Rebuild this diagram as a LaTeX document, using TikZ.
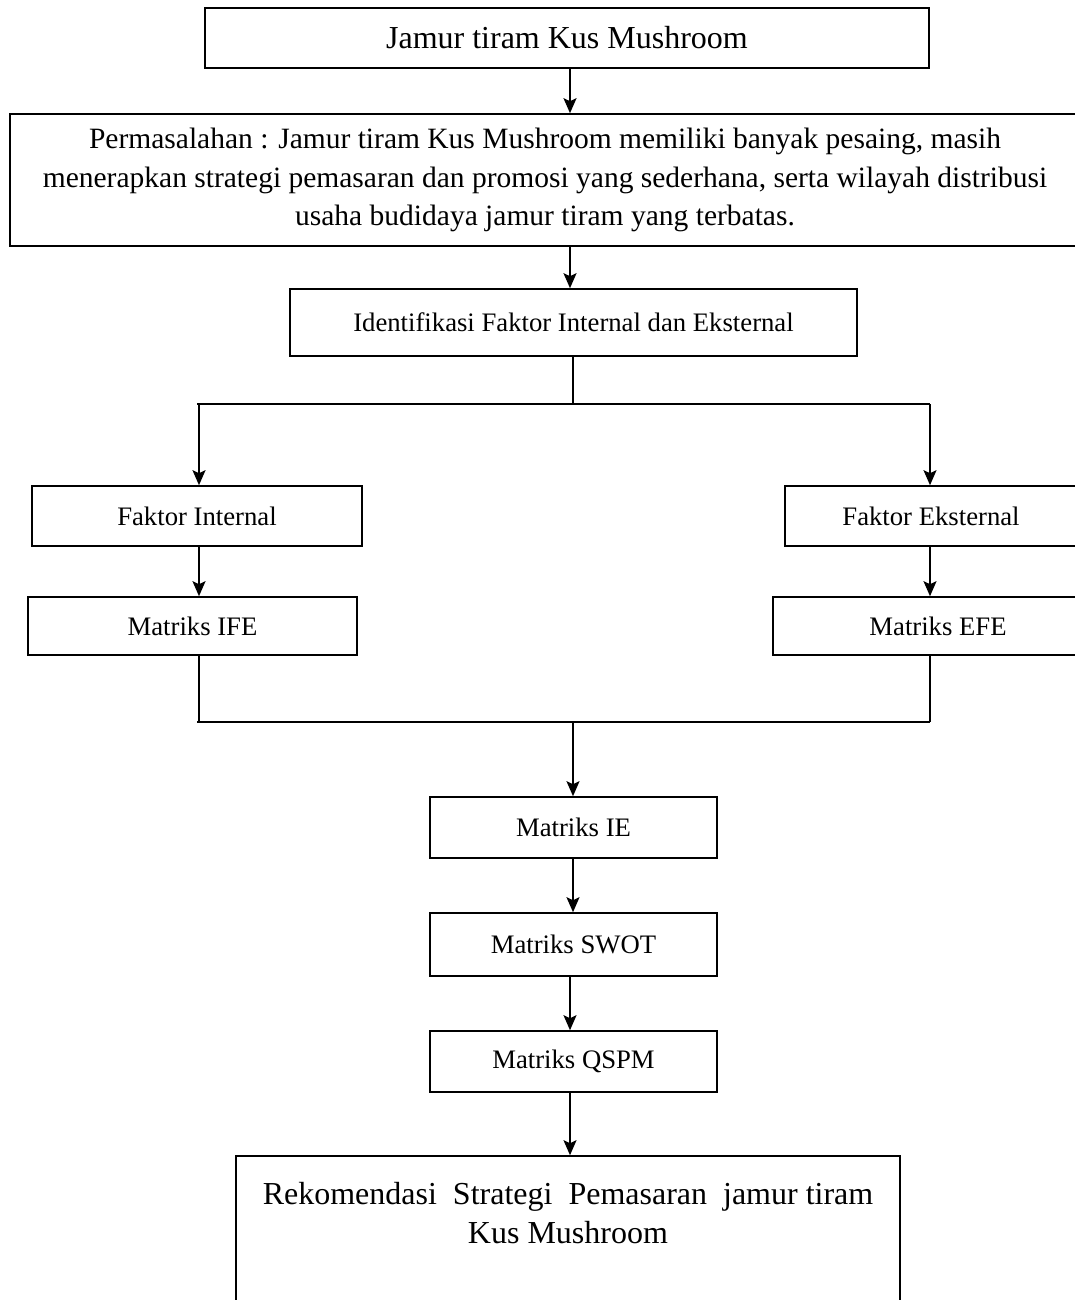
\documentclass[tikz,border=0pt]{standalone}
\usepackage{fontspec}
\setmainfont{Liberation Serif}
\usetikzlibrary{arrows.meta}
\begin{document}
\begin{tikzpicture}[x=1pt,y=-1pt,
  box/.style={draw,line width=1.6pt,inner sep=0pt,align=center,anchor=center},
  big/.style={font=\fontsize{32}{38.5}\selectfont},
  mid/.style={font=\fontsize{29.5}{38.5}\selectfont},
  small/.style={font=\fontsize{26.7}{32}\selectfont},
  conn/.style={line width=1.6pt},
  arr/.style={line width=1.6pt,-{Stealth[length=15pt,width=13pt,inset=3pt]}}]
\useasboundingbox (0,0) rectangle (1075,1300);
\clip (0,0) rectangle (1075,1300);
\fill[white] (0,0) rectangle (1075,1300);
\node[box,big,minimum width=724pt,minimum height=60pt] (b1) at (567,38) {Jamur tiram Kus Mushroom};
\node[box,mid,minimum width=1070pt,minimum height=132pt] (b2) at (545,180)
  {Permasalahan : Jamur tiram Kus Mushroom memiliki banyak pesaing, masih\\
   menerapkan strategi pemasaran dan promosi yang sederhana, serta wilayah distribusi\\
   usaha budidaya jamur tiram yang terbatas.};
\node[box,small,minimum width=567pt,minimum height=67pt] (b3) at (573.5,322.5) {Identifikasi Faktor Internal dan Eksternal};
\node[box,small,minimum width=330pt,minimum height=60pt] (fi) at (197,516) {Faktor Internal};
\node[box,small,minimum width=292pt,minimum height=60pt] (fe) at (931,516) {Faktor Eksternal};
\node[box,small,minimum width=329pt,minimum height=58pt] (ifx) at (192.5,626) {Matriks IFE};
\node[box,small,minimum width=330pt,minimum height=58pt] (efe) at (938,626) {Matriks EFE};
\node[box,small,minimum width=287pt,minimum height=61pt] (ie) at (573.5,827.5) {Matriks IE};
\node[box,small,minimum width=287pt,minimum height=63pt] (swot) at (573.5,944.5) {Matriks SWOT};
\node[box,small,minimum width=287pt,minimum height=61pt] (qspm) at (573.5,1061.5) {Matriks QSPM};
\node[box,minimum width=664pt,minimum height=184pt,
  label={[big,align=center,anchor=north,yshift=-24pt]north:{Rekomendasi\ \ Strategi\ \ Pemasaran\ \ jamur tiram\\Kus Mushroom}}] (rek) at (568,1248) {};
% helper coordinates
\coordinate (xa) at (570,0);
\coordinate (xc) at (573,0);
\coordinate (xl) at (199,0);
\coordinate (xr) at (930,0);
\coordinate (s1) at (573,404);
\coordinate (sl) at (197,404);
\coordinate (sr) at (930,404);
\coordinate (ml) at (197,722);
\coordinate (mr) at (930,722);
\coordinate (mc) at (573,722);
% connectors
\draw[arr] (xa |- b1.south) -- (xa |- b2.north);
\draw[arr] (xa |- b2.south) -- (xa |- b3.north);
\draw[conn] (xc |- b3.south) -- (s1);
\draw[conn] (sl) -- (sr);
\draw[arr] (xl |- sl) -- (xl |- fi.north);
\draw[arr] (sr) -- (xr |- fe.north);
\draw[arr] (xl |- fi.south) -- (xl |- ifx.north);
\draw[arr] (xr |- fe.south) -- (xr |- efe.north);
\draw[conn] (xl |- ifx.south) -- (xl |- ml);
\draw[conn] (xr |- efe.south) -- (mr);
\draw[conn] (ml) -- (mr);
\draw[arr] (mc) -- (xc |- ie.north);
\draw[arr] (xc |- ie.south) -- (xc |- swot.north);
\draw[arr] (xa |- swot.south) -- (xa |- qspm.north);
\draw[arr] (xa |- qspm.south) -- (xa |- rek.north);
\end{tikzpicture}
\end{document}
